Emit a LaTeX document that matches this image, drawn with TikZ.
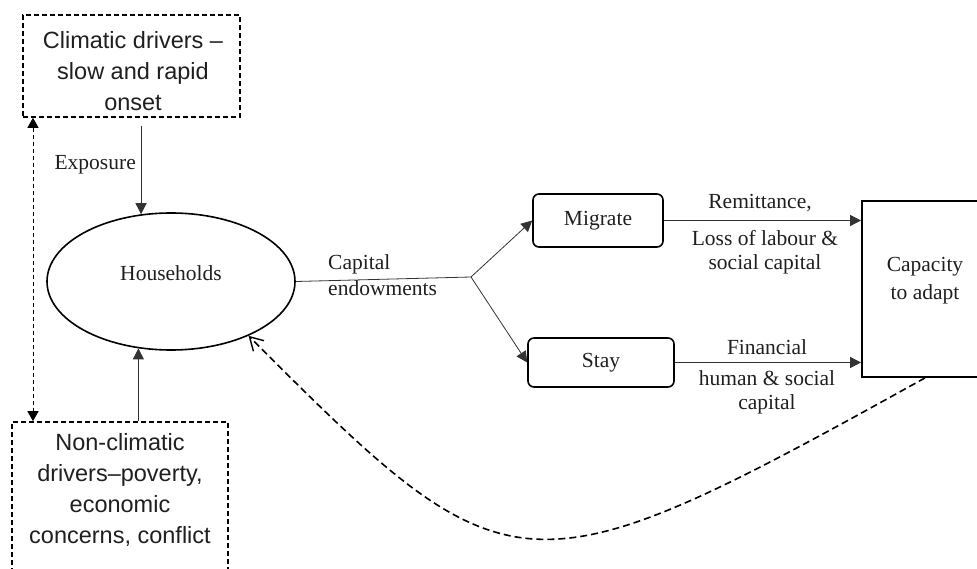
\documentclass[tikz,border=0pt]{standalone}
\usepackage{fontspec}
\setmainfont{Liberation Serif}
\newfontfamily\sansf{Liberation Sans}
\usetikzlibrary{arrows.meta,calc,shapes.geometric}
\begin{document}
\begin{tikzpicture}[x=1pt,y=-1pt,
  serif/.style={font=\fontsize{21.5}{26}\selectfont, inner sep=0pt, align=center, text=black!88},
  sanstext/.style={font=\sansf\fontsize{23.5}{31}\selectfont, inner sep=0pt, align=center, text=black!88},
  dbox/.style={draw, dash pattern=on 5pt off 3pt, line width=1.6pt, rectangle, inner sep=0pt},
  rbox/.style={draw, line width=1.6pt, rectangle, rounded corners=6pt, inner sep=0pt,
    font=\fontsize{21.5}{26}\selectfont, text=black!88},
  sbox/.style={draw, line width=1.8pt, rectangle, inner sep=0pt},
  conn/.style={line width=0.8pt, draw=black!80, -{Triangle[length=11pt,width=11pt]}},
  plain/.style={line width=0.8pt, draw=black!80},
  dconn/.style={line width=0.9pt, dash pattern=on 4pt off 3pt, {Triangle[length=10pt,width=11pt]}-{Triangle[length=10pt,width=11pt]}},
  fb/.style={line width=1.6pt, dash pattern=on 7pt off 4pt, -{Straight Barb[length=13pt,width=15pt,line width=1.4pt]}},
]
\useasboundingbox (0,0) rectangle (977,569);

% boxes
\node[dbox, minimum width=217pt, minimum height=102pt] (clim) at (131.5,66) {};
\node[sanstext] (climtext) at (133,71) {Climatic drivers –\\slow and rapid\\onset};

\node[dbox, minimum width=216pt, minimum height=190pt] (nonclim) at (120,517) {};
\node[sanstext] (nonclimtext) at (120,490) {Non-climatic\\drivers–poverty,\\economic\\concerns, conflict};

\node[draw, ellipse, line width=1.6pt, minimum width=248pt, minimum height=137pt, inner sep=0pt] (hh) at (171,281.5) {};
\node[serif] (hhtext) at (171,273) {Households};

\node[rbox, minimum width=130pt, minimum height=53pt] (mig) at (598,220.5) {Migrate};
\node[rbox, minimum width=146pt, minimum height=49pt] (stay) at (601,362.5) {Stay};

\node[sbox, minimum width=126pt, minimum height=176pt] (cap) at (925,289) {};
\node[serif, font=\fontsize{21.5}{28}\selectfont] (captext) at (925,281) {Capacity\\to adapt};

% coordinates
\coordinate (junc) at (471,277);

% connectors
\draw[dconn] (clim.south -| 33,0) -- (nonclim.north -| 33,0);
\draw[conn] ($(hh.114 |- clim.south)+(0,8)$) -- (hh.114);
\node[serif, anchor=east] (expo) at (136,165) {Exposure};

\draw[conn] (hh.244 |- nonclim.north) -- (hh.244);

\draw[plain] (hh.east) -- (junc);
\node[serif, anchor=west, align=left] (capend) at (328,275) {Capital\\endowments};
\draw[conn] (junc) -- (mig.west);
\draw[conn] (junc) -- (stay.west);

\draw[conn] (mig.east) -- (mig.east -| cap.west);
\node[serif] (remit) at (760,203) {Remittance,};
\node[serif, font=\fontsize{21.5}{24}\selectfont] (loss) at (765,252) {Loss of labour \&\\social capital};

\draw[conn] (stay.east) -- (stay.east -| cap.west);
\node[serif] (fin) at (767,347) {Financial};
\node[serif, font=\fontsize{21.5}{24}\selectfont] (hum) at (767,392) {human \& social\\capital};

\draw[fb] (cap.south) .. controls (523,601) and (510,598) .. (hh.325);
\end{tikzpicture}
\end{document}
